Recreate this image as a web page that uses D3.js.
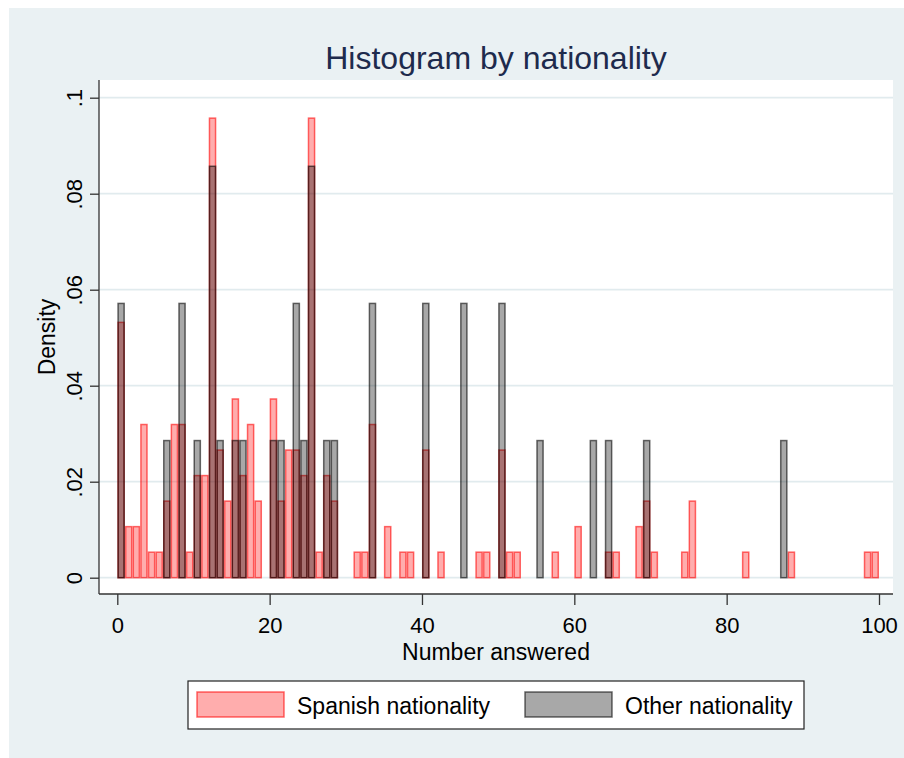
<!DOCTYPE html>
<html>
<head>
<meta charset="utf-8">
<script src="https://cdn.jsdelivr.net/npm/d3@7"></script>
<style>
  body { margin: 0; background: #ffffff; }
  text { font-family: "Liberation Sans", Arial, sans-serif; fill: #000; }
</style>
</head>
<body>
<div id="chart-area"></div>
<script>
var spanishBins   = [0,1,2,3,4,5,6,7,8,9,10,11,12,13,14,15,16,17,18,20,21,22,23,24,25,26,27,28,31,32,33,35,37,38,40,42,47,48,50,51,52,57,60,64,65,68,69,70,74,75,82,88,98,99];
var spanishCounts = [10,2,2,6,1,1,3,6,6,1,4,4,18,5,3,7,4,6,3,7,3,5,5,4,18,1,4,3,1,1,6,2,1,1,5,1,1,1,5,1,1,1,2,1,1,2,3,1,1,3,1,1,1,1];

var otherBins   = [0,6,8,10,12,13,15,16,20,21,23,24,25,27,28,33,40,45,50,55,62,64,69,87];
var otherCounts = [2,1,2,1,3,1,1,1,1,1,2,1,3,1,1,2,2,2,2,1,1,1,1,1];

var xTicks = [0, 20, 40, 60, 80, 100];
var yTicks = [0, 0.02, 0.04, 0.06, 0.08, 0.1];
var yTickLabels = ["0", ".02", ".04", ".06", ".08", ".1"];
var seriesNames = ["Spanish nationality", "Other nationality"];

var binWidth = 1;

function toDensity(bins, counts){
    var total = d3.sum(counts);
    return bins.map(function(b, i){
        return {x0: b, x1: b + binWidth, density: counts[i] / total / binWidth};
    });
}

var spanishData = toDensity(spanishBins, spanishCounts);
var otherData = toDensity(otherBins, otherCounts);

var W = 904, H = 758;
var plot = {left: 99, right: 893, top: 80, bottom: 594};

var redFill = "rgba(255,0,0,0.32)", redLine = "rgba(255,0,0,0.58)";
var grayFill = "rgba(0,0,0,0.34)", grayLine = "rgba(0,0,0,0.58)";

var svg = d3.select("#chart-area").append("svg")
    .attr("width", W)
    .attr("height", H);

// graph region
svg.append("rect")
    .attr("x", 9).attr("y", 8)
    .attr("width", W - 9).attr("height", H - 8)
    .attr("fill", "#eaf1f3");

// plot region
svg.append("rect")
    .attr("x", plot.left).attr("y", plot.top)
    .attr("width", plot.right - plot.left).attr("height", plot.bottom - plot.top)
    .attr("fill", "#ffffff");

var x = d3.scaleLinear()
    .domain([0, 100])
    .range([117.3, 879]);

var y = d3.scaleLinear()
    .domain([0, 0.1])
    .range([577.7, 97.7]);

// gridlines
svg.append("g")
    .selectAll("line")
    .data(yTicks)
    .enter()
    .append("line")
    .attr("x1", plot.left)
    .attr("x2", plot.right)
    .attr("y1", function(d){ return y(d); })
    .attr("y2", function(d){ return y(d); })
    .attr("stroke", "#e1ebee")
    .attr("stroke-width", 1.7);

function drawBars(data, cls, fill, stroke){
    svg.append("g")
        .selectAll("." + cls)
        .data(data)
        .enter()
        .append("rect")
        .attr("class", cls)
        .attr("x", function(d){ return x(d.x0) + 0.75; })
        .attr("width", function(d){ return x(d.x1) - x(d.x0) - 1.5; })
        .attr("y", function(d){ return y(d.density); })
        .attr("height", function(d){ return y(0) - y(d.density); })
        .attr("fill", fill)
        .attr("stroke", stroke)
        .attr("stroke-width", 1.5);
}

drawBars(spanishData, "spanish-bars", redFill, redLine);
drawBars(otherData, "other-bars", grayFill, grayLine);

// axes
var xAxis = d3.axisBottom(x)
    .tickValues(xTicks)
    .tickSize(11)
    .tickPadding(12)
    .tickFormat(d3.format("d"));

var gx = svg.append("g")
    .attr("transform", "translate(0," + plot.bottom + ")")
    .call(xAxis);
gx.select(".domain").remove();
gx.selectAll("line").attr("stroke", "#333").attr("stroke-width", 1.3);
gx.selectAll("text").style("font-size", "22px").attr("fill", "#000");

var yAxis = d3.axisLeft(y)
    .tickValues(yTicks)
    .tickSize(9)
    .tickFormat(function(d, i){ return yTickLabels[i]; });

var gy = svg.append("g")
    .attr("transform", "translate(" + plot.left + ",0)")
    .call(yAxis);
gy.select(".domain").remove();
gy.selectAll("line").attr("stroke", "#333").attr("stroke-width", 1.3);
gy.selectAll("text")
    .style("font-size", "22px")
    .attr("fill", "#000")
    .attr("x", null)
    .attr("dy", null)
    .attr("text-anchor", "middle")
    .attr("transform", "translate(-17,0) rotate(-90)");

svg.append("line")
    .attr("x1", plot.left).attr("x2", plot.left)
    .attr("y1", plot.top).attr("y2", plot.bottom)
    .attr("stroke", "#333").attr("stroke-width", 1.3);
svg.append("line")
    .attr("x1", plot.left).attr("x2", plot.right)
    .attr("y1", plot.bottom).attr("y2", plot.bottom)
    .attr("stroke", "#333").attr("stroke-width", 1.3);

// titles
svg.append("text")
    .attr("x", (plot.left + plot.right) / 2)
    .attr("y", 69)
    .attr("text-anchor", "middle")
    .style("font-size", "32px")
    .style("fill", "#1e2b4d")
    .text("Histogram by nationality");

svg.append("text")
    .attr("x", (plot.left + plot.right) / 2)
    .attr("y", 660)
    .attr("text-anchor", "middle")
    .style("font-size", "23px")
    .text("Number answered");

svg.append("text")
    .attr("transform", "translate(55," + (plot.top + plot.bottom) / 2 + ") rotate(-90)")
    .attr("text-anchor", "middle")
    .style("font-size", "23px")
    .text("Density");

// legend
var legend = svg.append("g");
legend.append("rect")
    .attr("x", 188).attr("y", 681)
    .attr("width", 616).attr("height", 48)
    .attr("fill", "#fff")
    .attr("stroke", "#222")
    .attr("stroke-width", 1.2);

var legendItems = [
    {name: seriesNames[0], sx: 197, tx: 297, fill: redFill, stroke: redLine},
    {name: seriesNames[1], sx: 525, tx: 625, fill: grayFill, stroke: grayLine}
];

legendItems.forEach(function(d){
    legend.append("rect")
        .attr("x", d.sx).attr("y", 692)
        .attr("width", 87).attr("height", 25)
        .attr("fill", d.fill)
        .attr("stroke", d.stroke)
        .attr("stroke-width", 1.5);
    legend.append("text")
        .attr("x", d.tx).attr("y", 714)
        .style("font-size", "23px")
        .text(d.name);
});
</script>
</body>
</html>
